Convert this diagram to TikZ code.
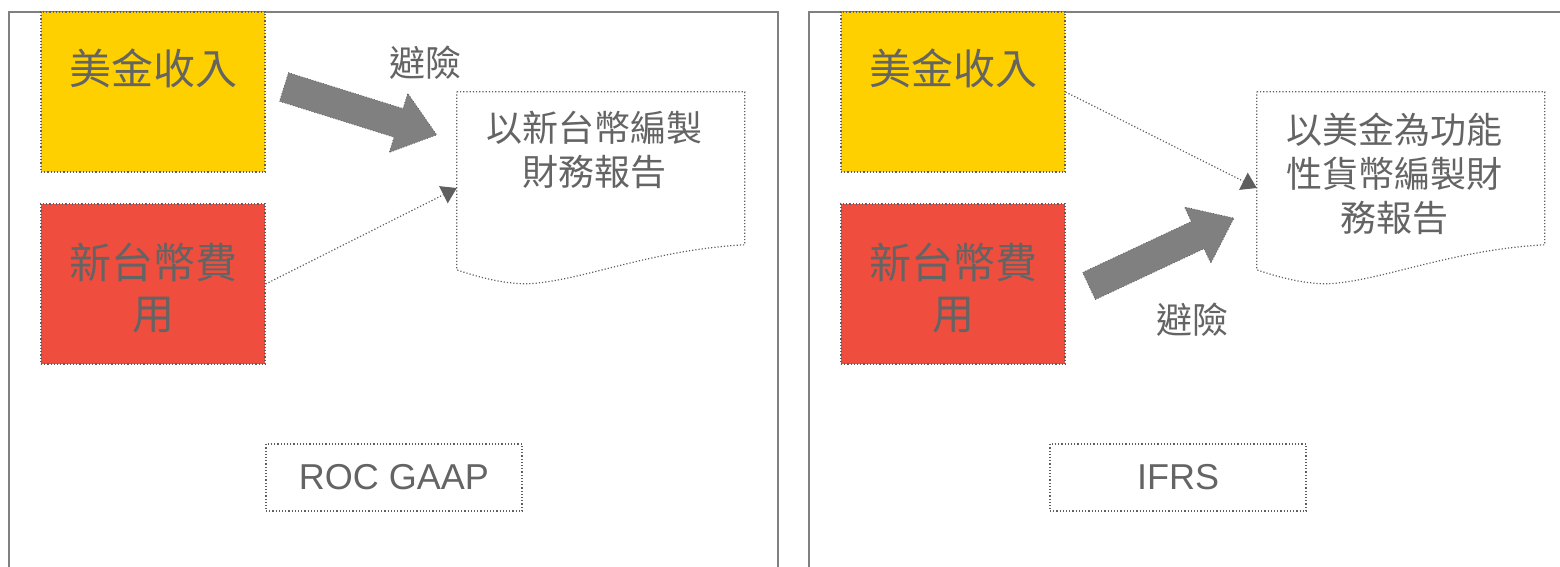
\documentclass[tikz,border=0pt]{standalone}
\usepackage{fontspec}
\setmainfont{Liberation Sans}
\newfontfamily\cjk{Noto Sans CJK TC}
\usetikzlibrary{arrows.meta}
\definecolor{txt}{RGB}{100,100,100}
\definecolor{frame}{RGB}{128,128,128}
\definecolor{usdyellow}{RGB}{255,208,0}
\definecolor{ntdred}{RGB}{239,77,61}
\definecolor{arrowgray}{RGB}{128,128,128}
\definecolor{dotgray}{RGB}{95,95,95}
\tikzset{
  panelframe/.style={draw=frame, line width=2pt},
  colorbox/.style={draw=dotgray, dotted, line width=1.2pt, minimum width=224pt, minimum height=160pt, inner sep=0pt},
  bigtext/.style={text=txt, font=\cjk\fontsize{42}{51}\selectfont, align=center, inner sep=0pt},
  midtext/.style={text=txt, font=\cjk\fontsize{36}{44}\selectfont, align=center, inner sep=0pt},
  doclabel/.style={minimum width=288pt, minimum height=192pt, inner sep=0pt},
  docline/.style={draw=dotgray, dotted, line width=1.2pt},
  stdbox/.style={draw=dotgray, dotted, line width=1.2pt, minimum width=256pt, minimum height=67pt, inner sep=0pt, text=txt, font=\fontsize{36}{42}\selectfont},
  thinconn/.style={draw=dotgray, dotted, line width=1.2pt, -{Triangle[length=15pt,width=19pt]}},
  bigarrowshape/.style={fill=arrowgray, draw=dotgray, dotted, line width=0.8pt},
  bigarrow/.pic={\path[bigarrowshape] (0,15) -- (120,15) -- (120,31) -- (160,0) -- (120,-31) -- (120,-15) -- (0,-15) -- cycle;}
}
\begin{document}
\begin{tikzpicture}[x=1pt,y=-1pt]
\useasboundingbox (0,0) rectangle (1560,566);
\clip (0,0) rectangle (1560,566);
% panels
\draw[panelframe] (9,620) -- (9,12) -- (778,12) -- (778,620);
\draw[panelframe] (809,620) -- (809,12) -- (1600,12);

% ---------- left panel (ROC GAAP)
\node[colorbox, fill=usdyellow] (yL) at (153,92) {};
\node[bigtext] (yLt) at (153,68) {美金收入};
\node[colorbox, fill=ntdred] (rL) at (153,284) {};
\node[bigtext] (rLt) at (153,288) {新台幣費\\用};
\node[doclabel] (docL) at (601,188) {};
\draw[docline, shift={(docL.north west)}] (0,0) -- (288,0) -- (288,153)
  .. controls (193,158) and (123,190) .. (70,192)
  .. controls (48,192) and (23,186) .. (0,178) -- cycle;
\node[midtext] (docLt) at (594,150) {以新台幣編製\\財務報告};
\node[midtext] (hedgeL) at (425,63) {避險};
\pic[rotate=-17.4] at (284,87) {bigarrow};
\draw[thinconn] (rL.east) -- (docL.west);
\node[stdbox] (rocgaap) at (394,477.5) {ROC GAAP};

% ---------- right panel (IFRS)
\node[colorbox, fill=usdyellow] (yR) at (953,92) {};
\node[bigtext] (yRt) at (953,68) {美金收入};
\node[colorbox, fill=ntdred] (rR) at (953,284) {};
\node[bigtext] (rRt) at (953,288) {新台幣費\\用};
\node[doclabel] (docR) at (1401,188) {};
\draw[docline, shift={(docR.north west)}] (0,0) -- (288,0) -- (288,153)
  .. controls (193,158) and (123,190) .. (70,192)
  .. controls (48,192) and (23,186) .. (0,178) -- cycle;
\node[midtext] (docRt) at (1394,174) {以美金為功能\\性貨幣編製財\\務報告};
\node[midtext] (hedgeR) at (1192,320) {避險};
\pic[rotate=25.1] at (1089,286) {bigarrow};
\draw[thinconn] (yR.east) -- (docR.west);
\node[stdbox] (ifrs) at (1178,477.5) {IFRS};
\end{tikzpicture}
\end{document}
